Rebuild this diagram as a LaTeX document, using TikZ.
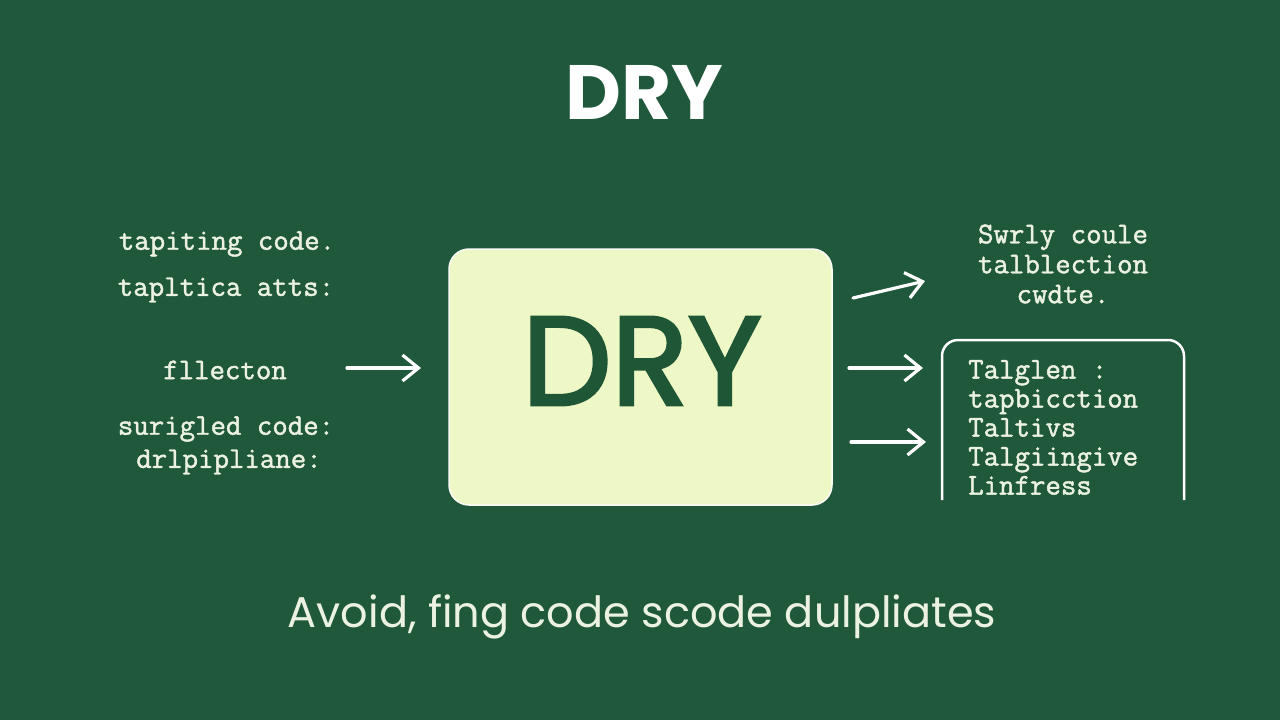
\documentclass[tikz,border=0pt]{standalone}
\usepackage{fontspec}
\setmainfont{Poppins}
\newfontfamily\monof{Latin Modern Mono}[FakeBold=1.5]
\newfontfamily\dryfont{Poppins}[FakeBold=2.5]
\usetikzlibrary{arrows.meta}
\definecolor{bggreen}{RGB}{31,88,58}
\definecolor{boxfill}{RGB}{238,247,198}
\definecolor{drygreen}{RGB}{30,86,54}
\definecolor{txt}{RGB}{236,242,226}
\tikzset{
  mono/.style={text=txt, font=\monof\fontsize{30}{30}\selectfont, inner sep=0pt},
  arr/.style={draw=white, line width=3.2pt, line cap=round, -{Straight Barb[length=16pt,width=26pt,line width=3.2pt]}},
}
\begin{document}
\begin{tikzpicture}[x=1pt,y=-1pt]
\fill[bggreen] (0,0) rectangle (1280,720);
\useasboundingbox (0,0) rectangle (1280,720);
% title
\node[text=white, font=\fontsize{77}{80}\selectfont\bfseries, inner sep=0pt] (title) at (644,92) {DRY};
% central box
\node[draw=white!90!boxfill, line width=1.5pt, fill=boxfill, rounded corners=20pt, minimum width=383pt, minimum height=256pt] (box) at (640.5,377) {};
\node[text=drygreen, font=\dryfont\fontsize{126}{128}\selectfont, inner sep=0pt] (drytext) at (642,361) {DRY};
% left texts
\node[mono] (l1) at (227,244) {tapiting code.};
\node[mono] (l2) at (226,290) {tapltica atts:};
\node[mono] (l3) at (225,370) {fllecton};
\node[mono] (l4) at (226,429) {surigled code:};
\node[mono] (l5) at (229,462) {drlpipliane:};
% right top text
\node[mono, align=center] (r1) at (1063,264) {Swrly coule\\[0pt]talblection\\[0pt]cwdte.};
% right open box
\draw[white, line width=2.5pt, rounded corners=16pt] (942,500) -- (942,340) -- (1184,340) -- (1184,500);
\node[mono, anchor=north west, align=left] (r2) at (968,360) {Talglen :\\[-1pt]tapbicction\\[-1pt]Taltivs\\[-1pt]Talgiingive\\[-1pt]Linfress};
% arrows
\coordinate (a1s) at (347,368); \coordinate (a1e) at (421,368);
\coordinate (a2s) at (853,298); \coordinate (a2e) at (925,281);
\coordinate (a3s) at (849,368); \coordinate (a3e) at (923,368);
\coordinate (a4s) at (851,442); \coordinate (a4e) at (926,442);
\draw[arr] (a1s) -- (a1e);
\draw[arr] (a2s) -- (a2e);
\draw[arr] (a3s) -- (a3e);
\draw[arr] (a4s) -- (a4e);
% bottom caption
\node[text=txt, font=\fontsize{43}{45}\selectfont, inner sep=0pt] (cap) at (642,617) {Avoid, fing code scode dulpliates};
\end{tikzpicture}
\end{document}
